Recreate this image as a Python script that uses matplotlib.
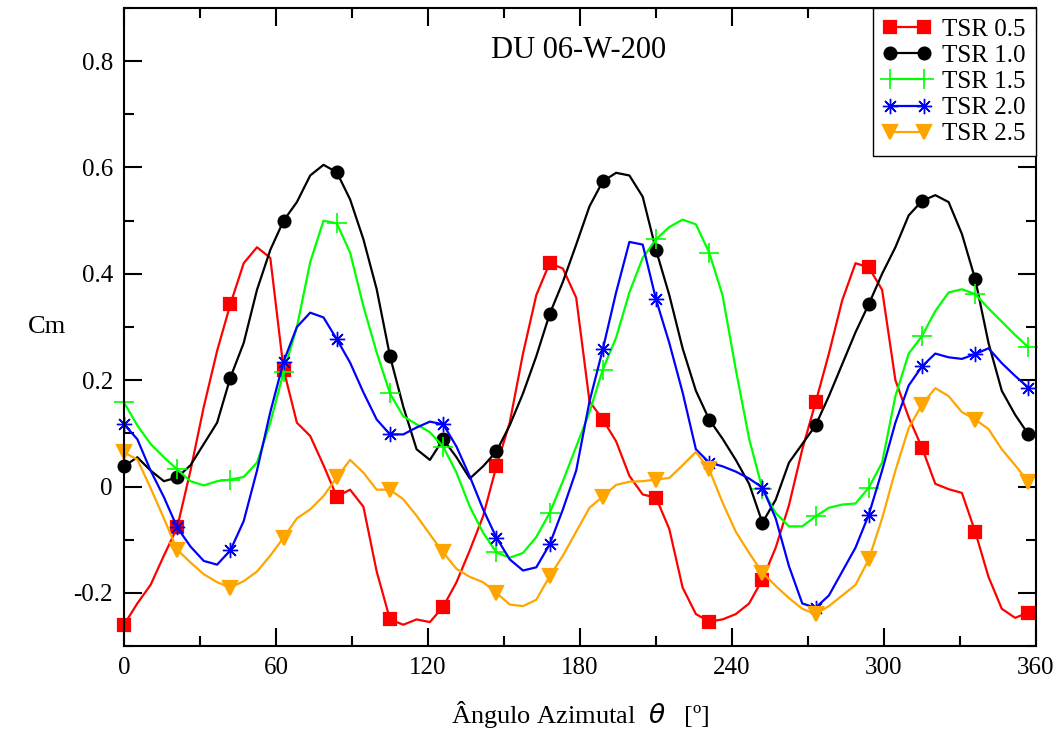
import numpy as np
import matplotlib
matplotlib.use("Agg")
import matplotlib.pyplot as plt
from matplotlib.ticker import MultipleLocator, FuncFormatter

plt.rcParams['font.family'] = ['Liberation Serif', 'DejaVu Serif']
plt.rcParams['mathtext.fontset'] = 'dejavusans'

# angulo azimutal (paso de 5.25 grados, marcadores cada 21 grados)
theta = np.arange(0, 357.1, 5.25)

# coeficiente de momento Cm para cada TSR
cm_05 = [-0.26, -0.22, -0.185, -0.13, -0.077, 0.03, 0.15, 0.255, 0.343, 0.42,
         0.45, 0.43, 0.22, 0.12, 0.095, 0.04, -0.019, -0.006, -0.038, -0.16,
         -0.25, -0.26, -0.25, -0.255, -0.226, -0.18, -0.12, -0.056, 0.038, 0.12,
         0.25, 0.36, 0.42, 0.41, 0.355, 0.16, 0.126, 0.085, 0.02, -0.015,
         -0.021, -0.08, -0.19, -0.24, -0.254, -0.25, -0.24, -0.22, -0.175, -0.115,
         -0.035, 0.07, 0.158, 0.25, 0.35, 0.42, 0.412, 0.37, 0.20, 0.13,
         0.073, 0.005, -0.005, -0.012, -0.085, -0.17, -0.23, -0.247, -0.237]

cm_10 = [0.038, 0.055, 0.03, 0.01, 0.017, 0.04, 0.08, 0.12, 0.205, 0.27,
         0.37, 0.445, 0.50, 0.535, 0.585, 0.605, 0.591, 0.54, 0.465, 0.371,
         0.245, 0.15, 0.07, 0.05, 0.089, 0.055, 0.015, 0.038, 0.066, 0.115,
         0.175, 0.245, 0.324, 0.385, 0.455, 0.527, 0.574, 0.59, 0.585, 0.545,
         0.445, 0.36, 0.26, 0.18, 0.126, 0.09, 0.05, 0.005, -0.068, -0.025,
         0.045, 0.08, 0.115, 0.17, 0.23, 0.29, 0.343, 0.40, 0.45, 0.51,
         0.537, 0.548, 0.535, 0.475, 0.39, 0.27, 0.18, 0.135, 0.098]

cm_15 = [0.158, 0.115, 0.08, 0.055, 0.032, 0.01, 0.002, 0.01, 0.013, 0.018,
         0.045, 0.12, 0.215, 0.30, 0.422, 0.50, 0.495, 0.44, 0.339, 0.252,
         0.175, 0.132, 0.117, 0.102, 0.075, 0.026, -0.038, -0.087, -0.124, -0.134,
         -0.125, -0.095, -0.05, 0.01, 0.075, 0.14, 0.22, 0.28, 0.365, 0.43,
         0.465, 0.488, 0.502, 0.493, 0.44, 0.36, 0.22, 0.09, -0.005, -0.05,
         -0.075, -0.075, -0.056, -0.04, -0.034, -0.032, -0.002, 0.045, 0.17, 0.25,
         0.283, 0.33, 0.365, 0.371, 0.362, 0.335, 0.31, 0.285, 0.262]

cm_20 = [0.117, 0.089, 0.03, -0.02, -0.077, -0.113, -0.14, -0.147, -0.12, -0.065,
         0.03, 0.14, 0.235, 0.30, 0.327, 0.318, 0.277, 0.233, 0.177, 0.126,
         0.098, 0.098, 0.111, 0.122, 0.117, 0.075, 0.019, -0.043, -0.096, -0.137,
         -0.158, -0.152, -0.109, -0.043, 0.03, 0.16, 0.258, 0.365, 0.46, 0.455,
         0.352, 0.27, 0.177, 0.07, 0.045, 0.038, 0.028, 0.015, -0.002, -0.06,
         -0.15, -0.22, -0.228, -0.205, -0.16, -0.115, -0.053, 0.03, 0.12, 0.19,
         0.226, 0.25, 0.243, 0.24, 0.249, 0.26, 0.232, 0.208, 0.186]

cm_25 = [0.064, 0.051, -0.003, -0.06, -0.119, -0.143, -0.165, -0.18, -0.19, -0.178,
         -0.16, -0.13, -0.096, -0.06, -0.043, -0.018, 0.017, 0.05, 0.026, -0.006,
         -0.006, -0.024, -0.055, -0.09, -0.124, -0.155, -0.17, -0.18, -0.2, -0.222,
         -0.225, -0.213, -0.169, -0.13, -0.085, -0.04, -0.019, 0.003, 0.009, 0.01,
         0.013, 0.016, 0.04, 0.065, 0.032, -0.03, -0.085, -0.125, -0.162, -0.187,
         -0.21, -0.23, -0.24, -0.225, -0.205, -0.185, -0.137, -0.06, 0.03, 0.11,
         0.154, 0.185, 0.17, 0.14, 0.126, 0.108, 0.07, 0.04, 0.009]

labels = ['TSR 0.5', 'TSR 1.0', 'TSR 1.5', 'TSR 2.0', 'TSR 2.5']
series = [cm_05, cm_10, cm_15, cm_20, cm_25]
colors = ['#ff0000', '#000000', '#00ff00', '#0000ff', '#ffa500']
markers = ['s', 'o', '+', (8, 2, 0), 'v']
msizes = [8, 8.5, 14, 11, 9.5]
medges = [1.6, 1.6, 1.2, 1.0, 1.6]

fig = plt.figure(figsize=(10.57, 7.29), dpi=100)
ax = fig.add_axes([124 / 1057, 83 / 729, 912 / 1057, 638 / 729])

for cm, lab, col, mk, ms, mew in zip(series, labels, colors, markers, msizes, medges):
    ax.plot(theta, cm, color=col, lw=1.6, marker=mk, markersize=ms,
            markevery=4, markeredgewidth=mew, label=lab, clip_on=False)

ax.set_xlim(0, 360)
ax.set_ylim(-0.3, 0.9)
ax.xaxis.set_major_locator(MultipleLocator(60))
ax.xaxis.set_minor_locator(MultipleLocator(30))
ax.yaxis.set_major_locator(MultipleLocator(0.2))
ax.yaxis.set_minor_locator(MultipleLocator(0.1))
ax.yaxis.set_major_formatter(FuncFormatter(lambda v, p: '0' if abs(v) < 1e-9 else f'{v:.1f}'))
ax.tick_params(which='both', direction='in', top=True, right=True, width=1.5, labelsize=18, pad=8)
ax.tick_params(which='major', length=13)
ax.tick_params(which='minor', length=7)
for sp in ax.spines.values():
    sp.set_linewidth(1.5)

ax.text(0.498, 0.933, 'DU 06-W-200', transform=ax.transAxes, ha='center', va='center', fontsize=22)
ax.set_xlabel('Ângulo Azimutal  $\\theta$   [º]', fontsize=19, labelpad=14)
ax.set_ylabel('Cm', fontsize=19, rotation=0, va='center', ha='center')
ax.yaxis.set_label_coords(-0.084, 0.50)

leg = ax.legend(loc='upper right', bbox_to_anchor=(1.0, 1.0), fontsize=18, numpoints=2,
                handlelength=1.95, handletextpad=0.45, labelspacing=0.15, borderpad=0.4,
                borderaxespad=0, fancybox=False, framealpha=1, edgecolor='black')
leg.get_frame().set_linewidth(1.0)

fig.savefig('out.png', dpi=100)
